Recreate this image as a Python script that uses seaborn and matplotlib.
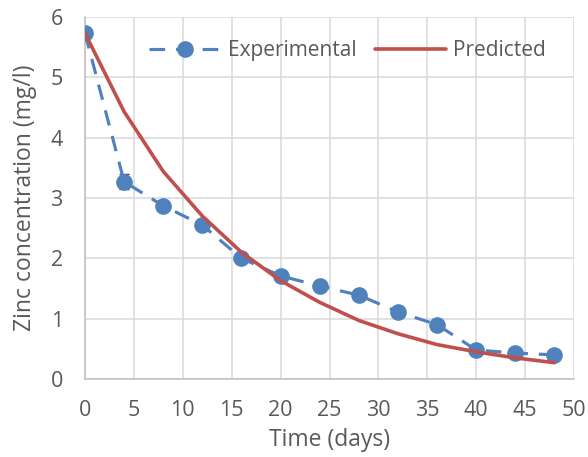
import matplotlib
matplotlib.use("Agg")
import matplotlib.pyplot as plt
import seaborn as sns
import pandas as pd

# Zinc concentration over time
time_days = [0, 4, 8, 12, 16, 20, 24, 28, 32, 36, 40, 44, 48]
experimental = [5.73, 3.27, 2.87, 2.55, 2.00, 1.71, 1.54, 1.39, 1.11, 0.90, 0.48, 0.43, 0.40]
experimental_err = [0, 0.12, 0, 0, 0, 0, 0, 0, 0, 0, 0, 0, 0]
predicted = [5.73, 4.43, 3.44, 2.70, 2.10, 1.63, 1.27, 0.97, 0.75, 0.57, 0.45, 0.35, 0.27]

x_ticks = [0, 5, 10, 15, 20, 25, 30, 35, 40, 45, 50]
y_ticks = [0, 1, 2, 3, 4, 5, 6]

BLUE = "#4F81BD"
RED = "#C0504D"
TEXT = "#595959"
GRID = "#D9D9D9"
AXIS = "#BFBFBF"

sns.set_style("white")
plt.rcParams["font.family"] = ["Open Sans", "DejaVu Sans"]

df = pd.DataFrame({"t": time_days, "exp": experimental, "err": experimental_err, "pred": predicted})

fig = plt.figure(figsize=(5.88, 4.57), dpi=100)
ax = fig.add_axes([0.1446, 0.1707, 0.8316, 0.7921])

ax.errorbar(df["t"], df["exp"], yerr=df["err"], fmt="none", ecolor="#404040",
            elinewidth=1.0, capsize=3.5, capthick=1.0, zorder=2)
sns.lineplot(data=df, x="t", y="exp", ax=ax, color=BLUE, lw=2.25,
             linestyle=(0, (5, 3.5)), marker="o", markersize=12,
             markeredgewidth=0, label="Experimental", zorder=3)
sns.lineplot(data=df, x="t", y="pred", ax=ax, color=RED, lw=2.6,
             label="Predicted", zorder=4)

ax.set_xlim(0, 50)
ax.set_ylim(0, 6)
ax.set_xticks(x_ticks)
ax.set_yticks(y_ticks)
ax.grid(True, color=GRID, lw=1.1)
ax.set_axisbelow(True)
for side in ("top", "right"):
    ax.spines[side].set_visible(False)
for side in ("left", "bottom"):
    ax.spines[side].set_color(AXIS)
    ax.spines[side].set_linewidth(1.1)
ax.tick_params(axis="both", length=0, labelsize=15.5, labelcolor=TEXT)
ax.tick_params(axis="x", pad=15)
ax.tick_params(axis="y", pad=16)
ax.set_xlabel("Time (days)", fontsize=16.5, color=TEXT, labelpad=5)
ax.set_ylabel("Zinc concentration (mg/l)", fontsize=16.5, color=TEXT, labelpad=10)

ax.legend(loc="center", bbox_to_anchor=(0.537, 0.908), ncol=2, frameon=False,
          fontsize=15, labelcolor=TEXT, handlelength=3.4, columnspacing=0.9,
          handletextpad=0.35)

fig.savefig("out.png", dpi=100)
